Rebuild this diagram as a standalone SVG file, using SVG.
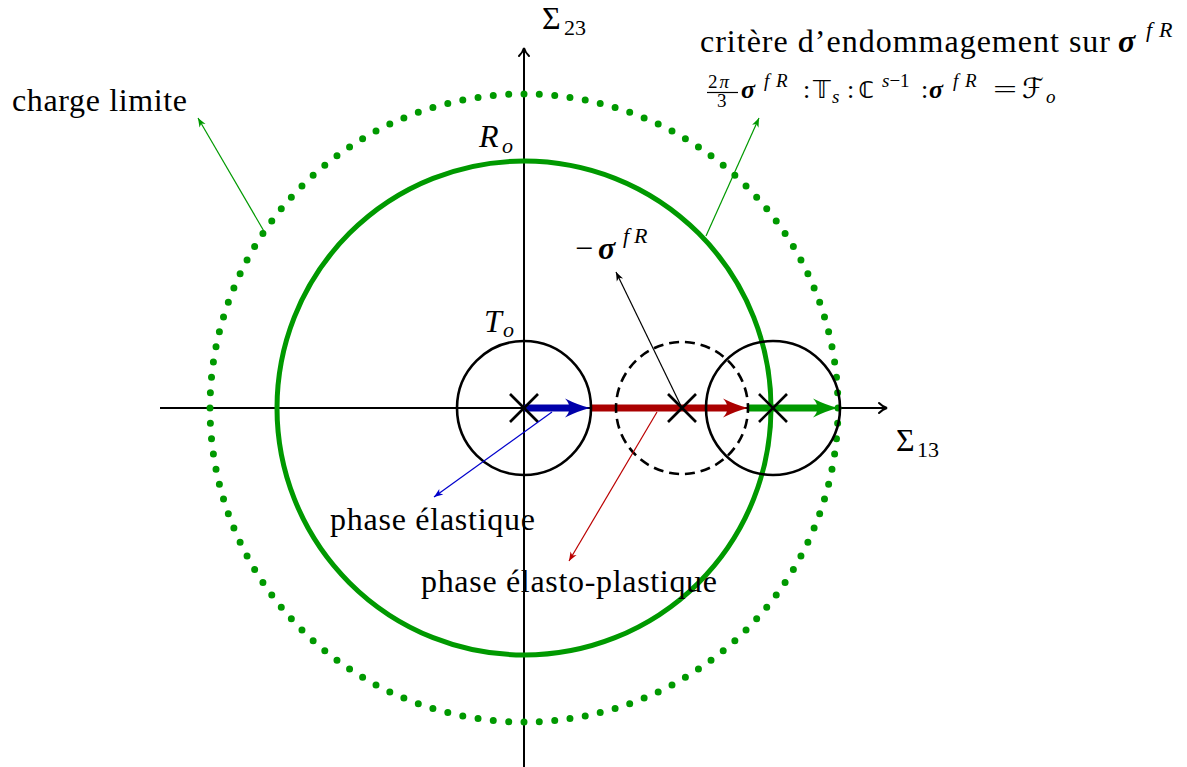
<svg xmlns="http://www.w3.org/2000/svg" width="1187" height="767" viewBox="0 0 1187 767">
<style>
text{font-family:"Liberation Serif","DejaVu Serif",serif;fill:#000}
.t{font-size:32px}
.s{font-size:22px}
.m{font-size:26px}
.ms{font-size:19px}
.it{font-style:italic}
.bs{font-style:italic;font-weight:bold}
.bb{font-family:"DejaVu Sans","Liberation Sans",sans-serif}
.axis{stroke:#000;stroke-width:2;fill:none}
.circ{stroke:#000;stroke-width:2.6;fill:none}
.cross{stroke:#000;stroke-width:2.6}
.thick{stroke-width:7;fill:none}
.thin{stroke-width:1.2;fill:none}
</style>
<defs>
<marker id="ax" markerUnits="userSpaceOnUse" markerWidth="14" markerHeight="14" viewBox="0 0 14 14" refX="11" refY="7" orient="auto" overflow="visible">
<path d="M3,2 Q7,6 11,7 Q7,8 3,12" fill="none" stroke="#000" stroke-width="2" stroke-linecap="round"/>
</marker>
<marker id="hb" markerUnits="userSpaceOnUse" markerWidth="26" markerHeight="20" viewBox="0 0 26 20" refX="8" refY="10" orient="auto" overflow="visible">
<path d="M25,10 Q13,7 0,0.5 Q9,10 0,19.5 Q13,13 25,10 Z" fill="#0000aa"/>
</marker>
<marker id="hr" markerUnits="userSpaceOnUse" markerWidth="26" markerHeight="20" viewBox="0 0 26 20" refX="8" refY="10" orient="auto" overflow="visible">
<path d="M25,10 Q13,7 0,0.5 Q9,10 0,19.5 Q13,13 25,10 Z" fill="#aa0000"/>
</marker>
<marker id="hg" markerUnits="userSpaceOnUse" markerWidth="26" markerHeight="20" viewBox="0 0 26 20" refX="8" refY="10" orient="auto" overflow="visible">
<path d="M25,10 Q13,7 0,0.5 Q9,10 0,19.5 Q13,13 25,10 Z" fill="#009900"/>
</marker>
<marker id="sk" markerUnits="userSpaceOnUse" markerWidth="10" markerHeight="8" viewBox="0 0 10 8" refX="9" refY="4" orient="auto" overflow="visible">
<path d="M9,4 L0,0.5 L2.5,4 L0,7.5 Z" fill="#000"/>
</marker>
<marker id="sb" markerUnits="userSpaceOnUse" markerWidth="10" markerHeight="8" viewBox="0 0 10 8" refX="9" refY="4" orient="auto" overflow="visible">
<path d="M9,4 L0,0.5 L2.5,4 L0,7.5 Z" fill="#0000cc"/>
</marker>
<marker id="sr" markerUnits="userSpaceOnUse" markerWidth="10" markerHeight="8" viewBox="0 0 10 8" refX="9" refY="4" orient="auto" overflow="visible">
<path d="M9,4 L0,0.5 L2.5,4 L0,7.5 Z" fill="#bb0000"/>
</marker>
<marker id="sg" markerUnits="userSpaceOnUse" markerWidth="10" markerHeight="8" viewBox="0 0 10 8" refX="9" refY="4" orient="auto" overflow="visible">
<path d="M9,4 L0,0.5 L2.5,4 L0,7.5 Z" fill="#009900"/>
</marker>
</defs>

<g id="axes">
<line class="axis" x1="524" y1="767" x2="524" y2="48" marker-end="url(#ax)"/>
<line class="axis" x1="160" y1="408" x2="887" y2="408" marker-end="url(#ax)"/>
<text class="t" x="542" y="29" font-size="33">Σ</text><text class="s" x="564" y="35">23</text>
<text class="t" x="896" y="451" font-size="33">Σ</text><text class="s" x="917" y="457">13</text>
</g>

<g id="charge-limite">
<circle cx="524" cy="408" r="314" fill="none" stroke="#009900" stroke-width="7" stroke-linecap="round" stroke-dasharray="0 1" pathLength="128"/>
<text class="t" x="12" y="111" textLength="175">charge limite</text>
</g>

<g id="critere">
<circle cx="524" cy="408" r="247" fill="none" stroke="#009900" stroke-width="5"/>
<text class="t it" x="479" y="147">R</text><text class="s it" x="502" y="153">o</text>
<text class="t" x="700" y="52" textLength="410">critère d’endommagement sur</text>
<text class="t bs" x="1118" y="52" font-size="35">σ</text>
<text class="s it" x="1146" y="37">f</text><text class="s it" x="1159" y="37">R</text>
<text class="ms" x="708" y="88">2<tspan class="it" dx="2">π</tspan></text>
<line x1="707" y1="92.5" x2="738" y2="92.5" stroke="#000" stroke-width="1.2"/>
<text class="ms" x="717" y="107">3</text>
<text class="m bs" x="741" y="98" font-size="30">σ</text>
<text class="ms it" x="764" y="87">f</text><text class="ms it" x="776" y="87">R</text>
<text class="m" x="803" y="98">:</text>
<text class="bb" x="813" y="98" font-size="25">𝕋</text>
<text class="ms it" x="832" y="103">s</text>
<text class="m" x="847" y="98">:</text>
<text class="bb" x="858" y="98" font-size="30">𝕔</text>
<text class="ms" x="882" y="87"><tspan class="it">s</tspan>−1</text>
<text class="m" x="921" y="98">:</text>
<text class="m bs" x="929" y="98" font-size="30">σ</text>
<text class="ms it" x="953" y="87">f</text><text class="ms it" x="965" y="87">R</text>
<text class="m" x="993" y="98" textLength="24" lengthAdjust="spacingAndGlyphs">=</text>
<text class="bb" x="1022" y="98" font-size="28" font-style="italic">ℱ</text>
<text class="ms it" x="1046" y="103">o</text>
</g>

<g id="trajet">
<line class="thick" x1="524" y1="408" x2="573" y2="408" stroke="#0000aa" marker-end="url(#hb)"/>
<line class="thick" x1="591" y1="408" x2="731" y2="408" stroke="#aa0000" marker-end="url(#hr)"/>
<line class="thick" x1="749" y1="408" x2="821" y2="408" stroke="#009900" marker-end="url(#hg)"/>
</g>

<g id="T0">
<circle class="circ" cx="524" cy="408" r="67"/>
<line class="cross" x1="510" y1="394" x2="538" y2="422"/><line class="cross" x1="510" y1="422" x2="538" y2="394"/>
<text class="t it" x="484" y="332">T</text><text class="s it" x="503" y="337">o</text>
</g>

<g id="T1">
<circle class="circ" cx="682" cy="408" r="66" stroke-dasharray="10 6" stroke-dashoffset="5" pathLength="416"/>
<line class="cross" x1="668" y1="394" x2="696" y2="422"/><line class="cross" x1="668" y1="422" x2="696" y2="394"/>
</g>

<g id="T2">
<circle class="circ" cx="773" cy="408" r="67"/>
<line class="cross" x1="759" y1="394" x2="787" y2="422"/><line class="cross" x1="759" y1="422" x2="787" y2="394"/>
</g>

<g id="sigma-label">
<text class="t" x="575" y="259">−</text>
<text class="t bs" x="598" y="259" font-size="35">σ</text>
<text class="s it" x="623" y="243">f</text><text class="s it" x="634" y="243">R</text>
</g>

<g id="phase-labels">
<text class="t" x="330" y="530" textLength="205">phase élastique</text>
<text class="t" x="421" y="592" textLength="296">phase élasto-plastique</text>
</g>

<g id="connectors">
<line class="thin" x1="682" y1="408" x2="616" y2="272" stroke="#000" marker-end="url(#sk)"/>
<line class="thin" x1="552" y1="412" x2="434" y2="497" stroke="#0000cc" marker-end="url(#sb)"/>
<line class="thin" x1="657" y1="412" x2="569" y2="561" stroke="#bb0000" marker-end="url(#sr)"/>
<line class="thin" x1="265" y1="233" x2="198" y2="118" stroke="#009900" marker-end="url(#sg)"/>
<line class="thin" x1="706" y1="236" x2="759" y2="118" stroke="#009900" marker-end="url(#sg)"/>
</g>
</svg>
